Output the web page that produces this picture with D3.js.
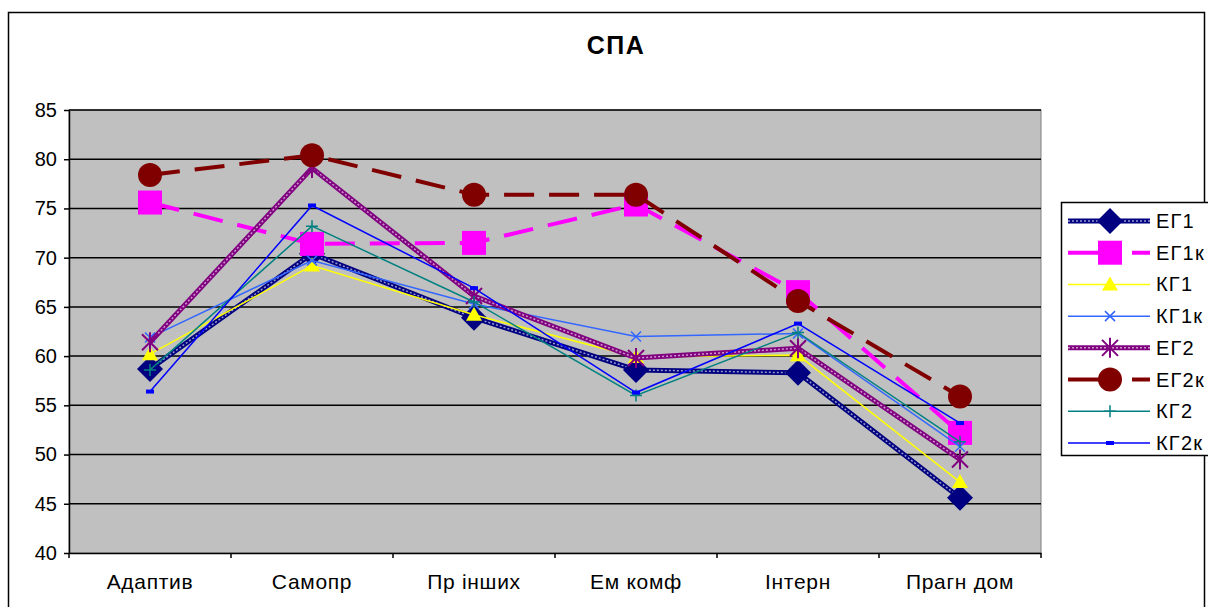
<!DOCTYPE html>
<html>
<head>
<meta charset="utf-8">
<script src="https://cdn.jsdelivr.net/npm/d3@7"></script>
<style>
  body { margin: 0; background: #fff; }
  text { font-family: "Liberation Sans", Arial, sans-serif; }
</style>
</head>
<body>
<script>
const categories = ["Адаптив", "Самопр", "Пр інших", "Ем комф", "Інтерн", "Прагн дом"];
const yTicks = [40, 45, 50, 55, 60, 65, 70, 75, 80, 85];

const eg1 = [58.7, 70.4, 63.9, 58.6, 58.3, 45.6];
const eg1k = [75.6, 71.4, 71.5, 75.4, 66.5, 52.2];
const kg1 = [60.2, 69.2, 64.2, 59.9, 60.1, 47.2];
const kg1k = [61.9, 69.7, 65.3, 62.0, 62.3, 50.8];
const eg2 = [61.4, 79.1, 66.1, 59.8, 60.8, 49.5];
const eg2k = [78.4, 80.4, 76.4, 76.4, 65.6, 55.9];
const kg2 = [58.6, 73.2, 65.5, 56.0, 62.4, 51.3];
const kg2k = [56.4, 75.3, 66.9, 56.3, 63.3, 53.2];

const seriesNames = ["ЕГ1", "ЕГ1к", "КГ1", "КГ1к", "ЕГ2", "ЕГ2к", "КГ2", "КГ2к"];
const seriesValues = [eg1, eg1k, kg1, kg1k, eg2, eg2k, kg2, kg2k];

// styling per series
const styles = [
  {color: "#000080", width: 5, chain: true, marker: "diamond"},
  {color: "#ff00ff", width: 4, dash: "30,15", marker: "square"},
  {color: "#ffff00", width: 1.5, marker: "triangle"},
  {color: "#3366ff", width: 1.5, marker: "x"},
  {color: "#800080", width: 5, chain: true, marker: "star"},
  {color: "#800000", width: 4, dash: "30,15", marker: "circle"},
  {color: "#008080", width: 1.5, marker: "plus"},
  {color: "#0000ff", width: 1.5, marker: "dash"}
];

const series = seriesNames.map((name, i) => ({name, values: seriesValues[i], style: styles[i]}));

const width = 1208, height = 607;
const plot = {left: 69, right: 1041, top: 110, bottom: 553};
const font = "'Liberation Sans', Arial, sans-serif";

const svg = d3.select("body").append("svg")
  .attr("width", width).attr("height", height);

// outer chart border
svg.append("rect")
  .attr("x", 8.5).attr("y", 12.5)
  .attr("width", 1196).attr("height", 620)
  .attr("fill", "#fff").attr("stroke", "#000").attr("stroke-width", 1.5);

svg.append("text")
  .attr("x", 616).attr("y", 54)
  .attr("text-anchor", "middle")
  .attr("font-size", 25).attr("font-weight", "bold")
  .attr("letter-spacing", 1.5)
  .text("СПА");

const x = d3.scaleBand().domain(categories).range([plot.left, plot.right]);
const y = d3.scaleLinear().domain([40, 85]).range([plot.bottom, plot.top]);
const cx = d => x(d) + x.bandwidth() / 2;

svg.append("rect")
  .attr("x", plot.left).attr("y", plot.top)
  .attr("width", plot.right - plot.left).attr("height", plot.bottom - plot.top)
  .attr("fill", "#c0c0c0").attr("stroke", "#808080").attr("stroke-width", 1);

// gridlines
svg.append("g").selectAll("line")
  .data(yTicks.slice(1))
  .join("line")
  .attr("x1", plot.left).attr("x2", plot.right)
  .attr("y1", d => y(d)).attr("y2", d => y(d))
  .attr("stroke", "#000").attr("stroke-width", 1.5);

// y axis
const yAxis = svg.append("g")
  .attr("transform", `translate(${plot.left},0)`)
  .call(d3.axisLeft(y).tickValues(yTicks).tickSize(5).tickSizeOuter(0).tickPadding(7));
yAxis.attr("font-size", 20).attr("font-family", font);
yAxis.selectAll("text").attr("fill", "#000");
yAxis.selectAll("line").attr("stroke", "#000").attr("stroke-width", 1.5);
yAxis.select(".domain").attr("stroke", "#000").attr("stroke-width", 1.5);

// x axis
const xAxis = svg.append("g")
  .attr("transform", `translate(0,${plot.bottom})`)
  .call(d3.axisBottom(x).tickSize(0).tickPadding(21));
xAxis.attr("font-size", 21).attr("font-family", font);
xAxis.selectAll("text").attr("fill", "#000").attr("letter-spacing", 0.7);
xAxis.select(".domain").attr("stroke", "#000").attr("stroke-width", 1.5);
xAxis.append("g").selectAll("line")
  .data(d3.range(categories.length + 1))
  .join("line")
  .attr("x1", i => plot.left + i * x.bandwidth())
  .attr("x2", i => plot.left + i * x.bandwidth())
  .attr("y1", 0).attr("y2", 5)
  .attr("stroke", "#000").attr("stroke-width", 1.5);

const line = d3.line().x((d, i) => cx(categories[i])).y(d => y(d));

function drawMarker(g, type, color, px, py) {
  if (type === "diamond") {
    g.append("path").attr("d", `M${px},${py-13}L${px+13},${py}L${px},${py+13}L${px-13},${py}Z`).attr("fill", color);
  } else if (type === "square") {
    g.append("rect").attr("x", px - 12).attr("y", py - 12).attr("width", 24).attr("height", 24).attr("fill", color);
  } else if (type === "triangle") {
    g.append("path").attr("d", `M${px},${py-8}L${px+8},${py+6}L${px-8},${py+6}Z`).attr("fill", color);
  } else if (type === "x") {
    g.append("path").attr("d", `M${px-5},${py-5}L${px+5},${py+5}M${px-5},${py+5}L${px+5},${py-5}`)
      .attr("stroke", color).attr("stroke-width", 1.5);
  } else if (type === "star") {
    g.append("path").attr("d", `M${px-8},${py-8}L${px+8},${py+8}M${px-8},${py+8}L${px+8},${py-8}M${px},${py-10}L${px},${py+10}`)
      .attr("stroke", color).attr("stroke-width", 2);
  } else if (type === "circle") {
    g.append("circle").attr("cx", px).attr("cy", py).attr("r", 12).attr("fill", color);
  } else if (type === "plus") {
    g.append("path").attr("d", `M${px-6},${py}L${px+6},${py}M${px},${py-6}L${px},${py+6}`)
      .attr("stroke", color).attr("stroke-width", 1.5);
  } else if (type === "dash") {
    g.append("rect").attr("x", px - 4).attr("y", py - 2).attr("width", 8).attr("height", 4).attr("fill", color);
  }
}

function drawLine(g, d, st) {
  g.append("path").attr("d", d).attr("fill", "none")
    .attr("stroke", st.color).attr("stroke-width", st.width)
    .attr("stroke-dasharray", st.dash || null);
  if (st.chain) {
    g.append("path").attr("d", d).attr("fill", "none")
      .attr("stroke", "#fff").attr("stroke-opacity", 0.6).attr("stroke-width", 1.5)
      .attr("stroke-dasharray", "2,2");
  }
}

const seriesG = svg.append("g");
series.forEach(s => {
  const g = seriesG.append("g");
  drawLine(g, line(s.values), s.style);
  s.values.forEach((v, i) => drawMarker(g, s.style.marker, s.style.color, cx(categories[i]), y(v)));
});

// legend
const legend = svg.append("g");
legend.append("rect")
  .attr("x", 1061.5).attr("y", 202.5).attr("width", 150).attr("height", 253)
  .attr("fill", "#fff").attr("stroke", "#000").attr("stroke-width", 1.5);
const legendY = d3.scalePoint().domain(seriesNames).range([221, 443]);
series.forEach(s => {
  const g = legend.append("g");
  const ly = legendY(s.name);
  drawLine(g, `M1068,${ly}L1150,${ly}`, Object.assign({}, s.style, {dash: s.style.dash ? "47,17" : null}));
  drawMarker(g, s.style.marker, s.style.color, 1110, ly);
  g.append("text").attr("x", 1156).attr("y", ly + 7)
    .attr("font-size", 20).attr("letter-spacing", 1.2).text(s.name);
});
</script>
</body>
</html>
